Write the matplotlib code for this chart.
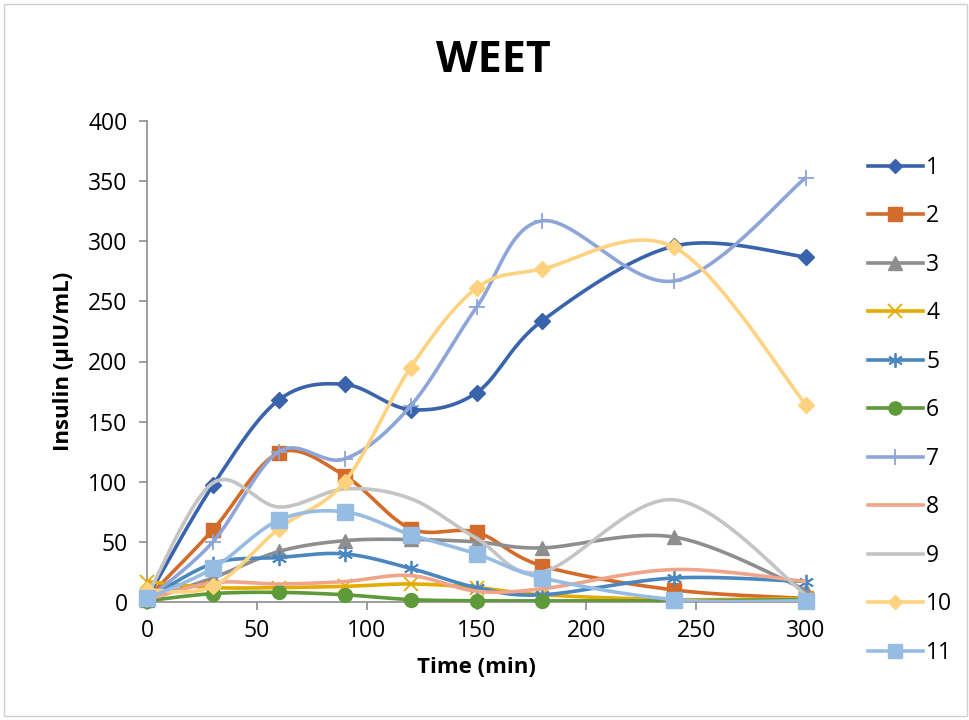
import numpy as np
import matplotlib
matplotlib.use("Agg")
import matplotlib.pyplot as plt
from matplotlib.lines import Line2D
from matplotlib.patches import Rectangle

# Data
time_min = [0, 30, 60, 90, 120, 150, 180, 240, 300]
series_names = ["1", "2", "3", "4", "5", "6", "7", "8", "9", "10", "11"]
s1 = [3, 97, 168, 181, 160, 174, 234, 296, 287]
s2 = [3, 60, 124, 105, 61, 58, 30, 10, 3]
s3 = [2, 20, 42, 51, 52, 50, 45, 54, 10]
s4 = [17, 12, 12, 13, 15, 12, 6, 2, 3]
s5 = [2, 32, 37, 40, 28, 12, 6, 20, 17]
s6 = [1, 7, 8, 6, 2, 1, 1, 1, 2]
s7 = [2, 50, 125, 119, 163, 245, 317, 267, 353]
s8 = [2, 16, 15, 17, 22, 9, 11, 27, 17]
s9 = [5, 99, 79, 94, 86, 53, 25, 85, 6]
s10 = [10, 13, 61, 100, 195, 261, 277, 295, 164]
s11 = [3, 28, 68, 75, 56, 40, 20, 2, 1]
all_series = [s1, s2, s3, s4, s5, s6, s7, s8, s9, s10, s11]

colors = ["#3A63AE", "#D36B2A", "#8E8E8E", "#E4AB00", "#4A86C0", "#5F9A3A",
          "#8EA5DA", "#F0A58A", "#C4C4C4", "#FFD27F", "#97BCE3"]
markers = ["D", "s", "^", "x", (6, 2, 0), "o", "+", None, None, "D", "s"]
msizes = [8, 10, 10, 10, 11, 10, 12, 0, 0, 8, 11]


def smooth(x, y, n=30):
    """Excel-like smoothed line (Catmull-Rom bezier)"""
    x = np.asarray(x, float)
    y = np.asarray(y, float)
    px = np.concatenate([[x[0]], x, [x[-1]]])
    py = np.concatenate([[y[0]], y, [y[-1]]])
    xs, ys = [], []
    t = np.linspace(0, 1, n)
    for i in range(1, len(px) - 2):
        p0 = np.array([px[i], py[i]])
        p3 = np.array([px[i + 1], py[i + 1]])
        c1 = p0 + (np.array([px[i + 1], py[i + 1]]) - np.array([px[i - 1], py[i - 1]])) / 6
        c2 = p3 - (np.array([px[i + 2], py[i + 2]]) - np.array([px[i], py[i]])) / 6
        b = ((1 - t) ** 3)[:, None] * p0 + (3 * (1 - t) ** 2 * t)[:, None] * c1 \
            + (3 * (1 - t) * t ** 2)[:, None] * c2 + (t ** 3)[:, None] * p3
        xs.extend(b[:, 0])
        ys.extend(b[:, 1])
    return np.array(xs), np.array(ys)


plt.rcParams['font.family'] = ['Open Sans', 'DejaVu Sans']

fig = plt.figure(figsize=(9.69, 7.2), dpi=100)
ax = fig.add_axes([147 / 969, 118 / 720, 659 / 969, 481 / 720])

for i, ys in enumerate(all_series):
    sx, sy = smooth(time_min, ys)
    ax.plot(sx, sy, color=colors[i], lw=2.6, solid_capstyle='round', zorder=2 + i)
    if markers[i] is not None:
        mew = 1.3 if markers[i] in ("x", "+", (6, 2, 0)) else 1
        ax.plot(time_min, ys, linestyle='none', marker=markers[i], ms=msizes[i],
                color=colors[i], mec=colors[i], mew=mew, zorder=2 + i, clip_on=False)

ax.set_xlim(0, 300)
ax.set_ylim(0, 400)
ax.set_xticks(np.arange(0, 301, 50))
ax.set_yticks(np.arange(0, 401, 50))
for side in ("top", "right"):
    ax.spines[side].set_visible(False)
for side in ("left", "bottom"):
    ax.spines[side].set_color("#8C8C8C")
    ax.spines[side].set_linewidth(1.2)
ax.tick_params(axis='both', colors="#8C8C8C", length=6, width=1.2, labelsize=16.5,
               labelcolor="black")
ax.tick_params(axis='x', pad=6)
ax.tick_params(axis='y', pad=8)
ax.set_xlabel("Time (min)", fontsize=16, fontweight='bold', labelpad=10)
ax.set_ylabel("Insulin (µIU/mL)", fontsize=16, fontweight='bold', labelpad=10)

fig.text(493 / 969, 1 - 61 / 720, "WEET", fontsize=31, fontweight='bold',
         ha='center', va='center')

handles = []
for i in range(len(all_series)):
    handles.append(Line2D([0], [0], color=colors[i], lw=2.6,
                          marker=markers[i] if markers[i] is not None else None,
                          ms=msizes[i] * 0.95, mec=colors[i],
                          mew=1.3 if markers[i] in ("x", "+", (6, 2, 0)) else 1))
leg = fig.legend(handles, series_names, loc='upper left',
                 bbox_to_anchor=(847 / 969, 1 - 135 / 720), frameon=False,
                 fontsize=16.5, handlelength=2.4, handletextpad=0.15,
                 labelspacing=1.07)

fig.patches.append(Rectangle((4 / 969, 4 / 720), 1 - 6 / 969, 1 - 8 / 720,
                             transform=fig.transFigure, fill=False,
                             edgecolor="#D0D0D0", lw=1))

fig.savefig("out.png", dpi=100)
